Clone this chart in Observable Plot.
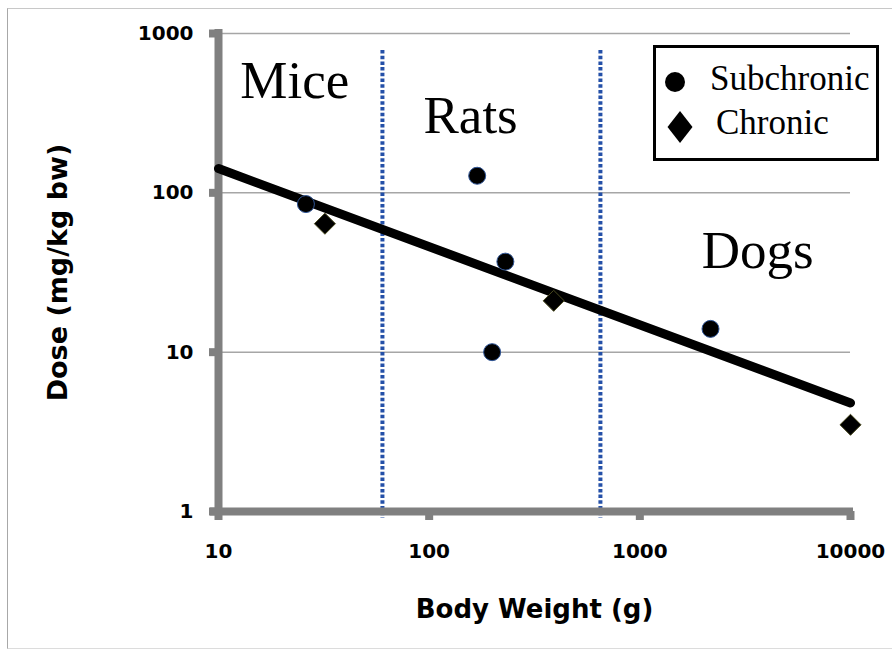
<!DOCTYPE html>
<html>
<head>
<meta charset="utf-8">
<script src="https://cdn.jsdelivr.net/npm/d3@7"></script>
<script src="https://cdn.jsdelivr.net/npm/@observablehq/plot@0.6"></script>
<style>
  body { margin: 0; background: #fff; }
  #wrap { position: relative; width: 892px; height: 650px; overflow: hidden; background: #fff; }
  #frame { position: absolute; left: 7px; top: 8px; width: 900px; height: 639px;
           border-left: 1.5px solid #a8a8a8; border-top: 1.5px solid #c8c8c8; border-bottom: 1.5px solid #dcdcdc; }
  #chart { position: absolute; left: 0; top: 0; }
  #legend { position: absolute; left: 653px; top: 45px; width: 220px; height: 110px;
            border: 3px solid #000; background: #fff; }
</style>
</head>
<body>
<div id="wrap">
  <div id="frame"></div>
  <div id="chart"></div>
  <div id="legend"></div>
</div>
<script>
// Body weight (g) and dose (mg/kg bw) for each study type
const subchronicWeight = [26, 169, 230, 199, 2165];
const subchronicDose   = [85, 128, 37, 10, 14];
const chronicWeight    = [32, 390, 10000];
const chronicDose      = [64, 21, 3.5];

// Allometric fit (power law, straight on log-log axes)
const trendWeight = [10, 10000];
const trendDose   = [142, 4.8];

// Species regions and the boundaries between them
const speciesNames       = ["Mice", "Rats", "Dogs"];
const speciesLabelWeight = [12.7, 94, 1968];
const speciesLabelDose   = [395, 238, 33.7];
const speciesBoundaries  = [60, 650];

const xTicks = [10, 100, 1000, 10000];
const yTicks = [1, 10, 100, 1000];
const seriesNames = ["Subchronic", "Chronic"];
const xTitle = "Body Weight (g)";
const yTitle = "Dose (mg/kg bw)";

const subchronic = subchronicWeight.map((w, i) => ({weight: w, dose: subchronicDose[i]}));
const chronic = chronicWeight.map((w, i) => ({weight: w, dose: chronicDose[i]}));
const trend = trendWeight.map((w, i) => ({weight: w, dose: trendDose[i]}));
const species = speciesNames.map((name, i) => ({name, weight: speciesLabelWeight[i], dose: speciesLabelDose[i]}));

const axisGray = "#808080";
const serif = "'Liberation Serif', 'Times New Roman', serif";

const chart = Plot.plot({
  width: 892,
  height: 650,
  marginLeft: 218,
  marginRight: 42,
  marginTop: 33,
  marginBottom: 139,
  style: {fontFamily: "'DejaVu Sans', sans-serif", fontWeight: "bold", fontSize: "20px", color: "#000", background: "transparent"},
  x: {type: "log", domain: [10, 10000]},
  y: {type: "log", domain: [1, 1000]},
  marks: [
    Plot.gridY(yTicks.slice(1), {stroke: "#a6a6a6", strokeOpacity: 1, strokeWidth: 1.5}),
    Plot.ruleX(speciesBoundaries, {stroke: "#2450a8", strokeWidth: 4, strokeDasharray: "3.5,2.2", insetTop: 17, insetBottom: -7}),
    Plot.axisX(xTicks, {tickSize: 9, tickPadding: 23, stroke: axisGray, strokeWidth: 8, strokeOpacity: 1, fontSize: 20,
                        tickFormat: d => String(d), label: null, fill: "#000"}),
    Plot.axisY(yTicks, {tickSize: 9, tickPadding: 16, stroke: axisGray, strokeWidth: 8, strokeOpacity: 1, fontSize: 20,
                        tickFormat: d => String(d), label: null, fill: "#000"}),
    Plot.ruleX([10], {stroke: axisGray, strokeWidth: 8, insetTop: -4, insetBottom: -4}),
    Plot.ruleY([1], {stroke: axisGray, strokeWidth: 8, insetLeft: -8, insetRight: -3}),
    Plot.line(trend, {x: "weight", y: "dose", stroke: "#000", strokeWidth: 9}),
    Plot.dot(subchronic, {x: "weight", y: "dose", symbol: "circle", r: 8.5, fill: "#000", stroke: "#2f5597", strokeWidth: 1}),
    Plot.dot(chronic, {x: "weight", y: "dose", symbol: "diamond2", r: 9.5, fill: "#000", stroke: "#4a4a20", strokeWidth: 1}),
    Plot.text(species, {x: "weight", y: "dose", text: "name", textAnchor: "start", lineAnchor: "bottom",
                        fontFamily: serif, fontWeight: "normal", fontSize: 53, fill: "#000"}),
    Plot.text([xTitle], {frameAnchor: "bottom", textAnchor: "middle", lineAnchor: "bottom", dy: 106, fontSize: 26, fill: "#000"}),
    Plot.text([yTitle], {frameAnchor: "left", textAnchor: "middle", lineAnchor: "middle", rotate: -90, dx: -160, fontSize: 27, fill: "#000"})
  ]
});
document.getElementById("chart").append(chart);

// Legend: symbol + series name
const legend = d3.select("#legend").append("svg").attr("width", 220).attr("height", 110);
const legendRows = [
  {name: seriesNames[0], tx: 54, ty: 42},
  {name: seriesNames[1], tx: 60, ty: 86}
];
legend.append("circle").attr("cx", 19).attr("cy", 34).attr("r", 10).attr("fill", "#000");
legend.append("path").attr("d", "M24,63 L36.5,79 L24,95 L11.5,79 Z").attr("fill", "#000");
legend.selectAll("text").data(legendRows).join("text")
  .attr("x", d => d.tx).attr("y", d => d.ty)
  .attr("font-family", serif).attr("font-size", 35).attr("fill", "#000")
  .text(d => d.name);
</script>
</body>
</html>
